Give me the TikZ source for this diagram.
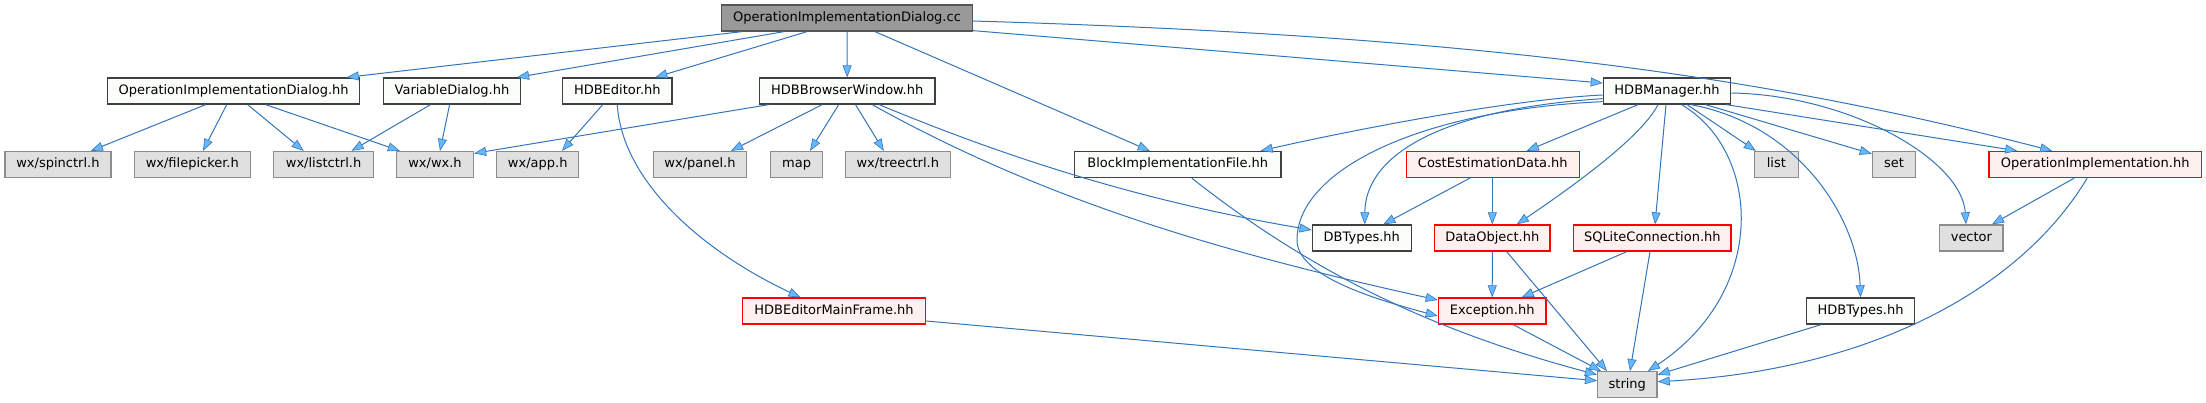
\documentclass[tikz,border=0pt]{standalone}
\usepackage{fontspec}
\setmainfont{DejaVu Sans}
\usetikzlibrary{arrows.meta}
\definecolor{edgec}{HTML}{3474B8}
\definecolor{headc}{HTML}{63B8FF}
\definecolor{rootf}{HTML}{999999}
\definecolor{rootd}{HTML}{555555}
\definecolor{whited}{HTML}{404040}
\definecolor{whitef}{HTML}{FBFDFB}
\definecolor{grayf}{HTML}{E0E0E0}
\definecolor{grayd}{HTML}{8C8C8C}
\definecolor{redf}{HTML}{FFF0F0}
\begin{document}
\begin{tikzpicture}[x=1pt,y=-1pt,
  box/.style={rectangle, inner sep=0pt, minimum height=26pt, line width=1.3pt,
    font=\fontsize{13}{15}\selectfont, text=black, text height=9.5pt, text depth=2.6pt},
  rootbox/.style={box, fill=rootf, draw=rootd},
  whitebox/.style={box, fill=whitef, draw=whited},
  graybox/.style={box, fill=grayf, draw=grayd},
  redbox/.style={box, fill=redf, draw=red},
  dep/.style={draw=edgec, line width=1pt, -{Triangle[length=12pt,width=9pt,fill=headc,line width=0.6pt]}},
]
\useasboundingbox (0,0) rectangle (2206,403);
% row 0
\node[rootbox, minimum width=251pt] (root) at (847,18) {OperationImplementationDialog.cc};
% row 1
\node[whitebox, minimum width=252pt] (oidh) at (233.7,91) {OperationImplementationDialog.hh};
\node[whitebox, minimum width=137pt] (vard) at (452,91) {VariableDialog.hh};
\node[whitebox, minimum width=109.5pt] (hed) at (617.3,91) {HDBEditor.hh};
\node[whitebox, minimum width=175.7pt] (hbw) at (847.2,91) {HDBBrowserWindow.hh};
\node[whitebox, minimum width=127.3pt] (hman) at (1667,91) {HDBManager.hh};
% row 2
\node[graybox, minimum width=106pt] (spin) at (57.9,164.5) {wx/spinctrl.h};
\node[graybox, minimum width=116pt] (fpick) at (192.3,164.5) {wx/filepicker.h};
\node[graybox, minimum width=100pt] (lctrl) at (323.6,164.5) {wx/listctrl.h};
\node[graybox, minimum width=77pt] (wxh) at (435,164.5) {wx/wx.h};
\node[graybox, minimum width=82pt] (app) at (537.7,164.5) {wx/app.h};
\node[graybox, minimum width=93.5pt] (panel) at (700,164.5) {wx/panel.h};
\node[graybox, minimum width=51.6pt] (map) at (796.6,164.5) {map};
\node[graybox, minimum width=104.8pt] (tree) at (897.8,164.5) {wx/treectrl.h};
\node[whitebox, minimum width=206.3pt] (bif) at (1177.8,164.5) {BlockImplementationFile.hh};
\node[redbox, minimum width=173pt] (ced) at (1492.8,164.5) {CostEstimationData.hh};
\node[graybox, minimum width=43.7pt] (list) at (1776.3,164.5) {list};
\node[graybox, minimum width=43.4pt] (set) at (1894.1,164.5) {set};
\node[redbox, minimum width=212.3pt] (opi) at (2095.2,164.5) {OperationImplementation.hh};
% row 3
\node[whitebox, minimum width=99pt] (dbt) at (1361.8,238) {DBTypes.hh};
\node[redbox, minimum width=115.3pt] (dob) at (1492.3,238) {DataObject.hh};
\node[redbox, minimum width=157.3pt] (sql) at (1652.3,238) {SQLiteConnection.hh};
\node[graybox, minimum width=63.2pt] (vec) at (1971.4,238) {vector};
% row 4
\node[redbox, minimum width=182.7pt] (hemf) at (834,311) {HDBEditorMainFrame.hh};
\node[redbox, minimum width=107.7pt] (exc) at (1492.2,311) {Exception.hh};
\node[whitebox, minimum width=108.5pt] (hty) at (1860.5,311) {HDBTypes.hh};
% row 5
\node[graybox, minimum width=59.4pt] (str) at (1627.3,384.7) {string};

% edges from root
\draw[dep] ([xshift=-105pt]root.south) -- ([xshift=113pt]oidh.north);
\draw[dep] ([xshift=-63pt]root.south) -- ([xshift=65pt]vard.north);
\draw[dep] ([xshift=-40pt]root.south) -- ([xshift=38pt]hed.north);
\draw[dep] (root.south) -- (hbw.north);
\draw[dep] ([xshift=28pt]root.south) -- ([xshift=-28pt]bif.north);
\draw[dep] ([yshift=1pt]root.south east) -- ([yshift=8pt]hman.west);
\draw[dep] ([yshift=-3pt]root.east) .. controls (1472,36) and (1755,74) .. ([xshift=-43pt]opi.north);
% OperationImplementationDialog.hh
\draw[dep] ([xshift=-28pt]oidh.south) -- ([xshift=33pt]spin.north);
\draw[dep] ([xshift=-7pt]oidh.south) -- ([xshift=10.7pt]fpick.north);
\draw[dep] ([xshift=14pt]oidh.south) -- ([xshift=-20pt]lctrl.north);
\draw[dep] ([xshift=32pt]oidh.south) -- ([xshift=4pt]wxh.north west);
% VariableDialog.hh
\draw[dep] ([xshift=-21.5pt]vard.south) -- ([xshift=28pt]lctrl.north);
\draw[dep] ([xshift=-2.4pt]vard.south) -- ([xshift=5pt]wxh.north);
% HDBEditor.hh
\draw[dep] ([xshift=-14.6pt]hed.south) -- ([xshift=24.3pt]app.north);
\draw[dep] (hed.south) .. controls (622,180) and (700,250) .. ([xshift=-33.5pt]hemf.north);
% HDBBrowserWindow.hh
\draw[dep] ([xshift=10pt]hbw.south west) -- ([yshift=-2.5pt]wxh.north east);
\draw[dep] ([xshift=-25pt]hbw.south) -- ([xshift=31pt]panel.north);
\draw[dep] ([xshift=-8.5pt]hbw.south) -- ([xshift=13.4pt]map.north);
\draw[dep] ([xshift=8.3pt]hbw.south) -- ([xshift=-14pt]tree.north);
\draw[dep] ([xshift=32pt]hbw.south) .. controls (1029,167) and (1162,204.5) .. ([yshift=8pt]dbt.west);
\draw[dep] ([xshift=25pt]hbw.south) .. controls (1052,205) and (1238,256) .. ([yshift=11pt]exc.west);
% BlockImplementationFile.hh
\draw[dep] ([xshift=14pt]bif.south) .. controls (1322,281) and (1447,334.5) .. ([yshift=10pt]str.west);
% HDBEditorMainFrame.hh
\draw[dep] ([yshift=-10pt]hemf.east) -- ([yshift=4pt]str.west);
% HDBManager.hh
\draw[dep] ([yshift=-4pt]hman.west) .. controls (1500,100) and (1330,135) .. ([xshift=-21pt]bif.north east);
\draw[dep] ([yshift=6pt]hman.south west) .. controls (1430,110) and (1365,160) .. ([xshift=3pt]dbt.north);
\draw[dep] ([yshift=3pt]hman.south west) .. controls (1420,110) and (1297,170) .. (1297,240)
   .. controls (1297,275) and (1370,298) .. ([yshift=-5pt]exc.west);
\draw[dep] ([xshift=-29pt]hman.south) -- ([xshift=34pt]ced.north);
\draw[dep] ([xshift=-9pt]hman.south) .. controls (1640,140) and (1560,195) .. ([xshift=24.5pt]dob.north);
\draw[dep] ([xshift=-1pt]hman.south) -- ([xshift=2.7pt]sql.north);
\draw[dep] ([xshift=14.4pt]hman.south) .. controls (1760,150) and (1770,290) .. ([xshift=20.7pt]str.north);
\draw[dep] ([xshift=20pt]hman.south) -- ([xshift=2pt]list.north west);
\draw[dep] ([xshift=24pt]hman.south) .. controls (1800,125) and (1858,220) .. (hty.north);
\draw[dep] ([xshift=38.5pt]hman.south) -- ([yshift=-3pt]set.north west);
\draw[dep] ([xshift=-5pt]hman.south east) -- ([xshift=-78pt]opi.north);
\draw[dep] ([yshift=-2pt]hman.east) .. controls (1850,95) and (1962,160) .. ([xshift=-5.4pt]vec.north);
% CostEstimationData.hh
\draw[dep] ([xshift=-23pt]ced.south) -- ([xshift=21.5pt]dbt.north);
\draw[dep] ([xshift=-0.5pt]ced.south) -- (dob.north);
% DataObject.hh
\draw[dep] (dob.south) -- (exc.north);
\draw[dep] ([xshift=14.4pt]dob.south) -- ([xshift=10pt]str.north west);
% SQLiteConnection.hh
\draw[dep] ([xshift=-25.6pt]sql.south) -- ([xshift=29.5pt]exc.north);
\draw[dep] ([xshift=-2.3pt]sql.south) -- ([xshift=2.7pt]str.north);
% Exception.hh
\draw[dep] ([xshift=21pt]exc.south) -- ([xshift=4pt]str.north west);
% HDBTypes.hh
\draw[dep] ([xshift=-39.5pt]hty.south) -- ([yshift=10pt]str.east);
% OperationImplementation.hh
\draw[dep] ([xshift=-8pt]opi.south) .. controls (2020,290) and (1870,370) .. ([yshift=3pt]str.east);
\draw[dep] ([xshift=-21pt]opi.south) -- ([xshift=20.6pt]vec.north);
\end{tikzpicture}
\end{document}
